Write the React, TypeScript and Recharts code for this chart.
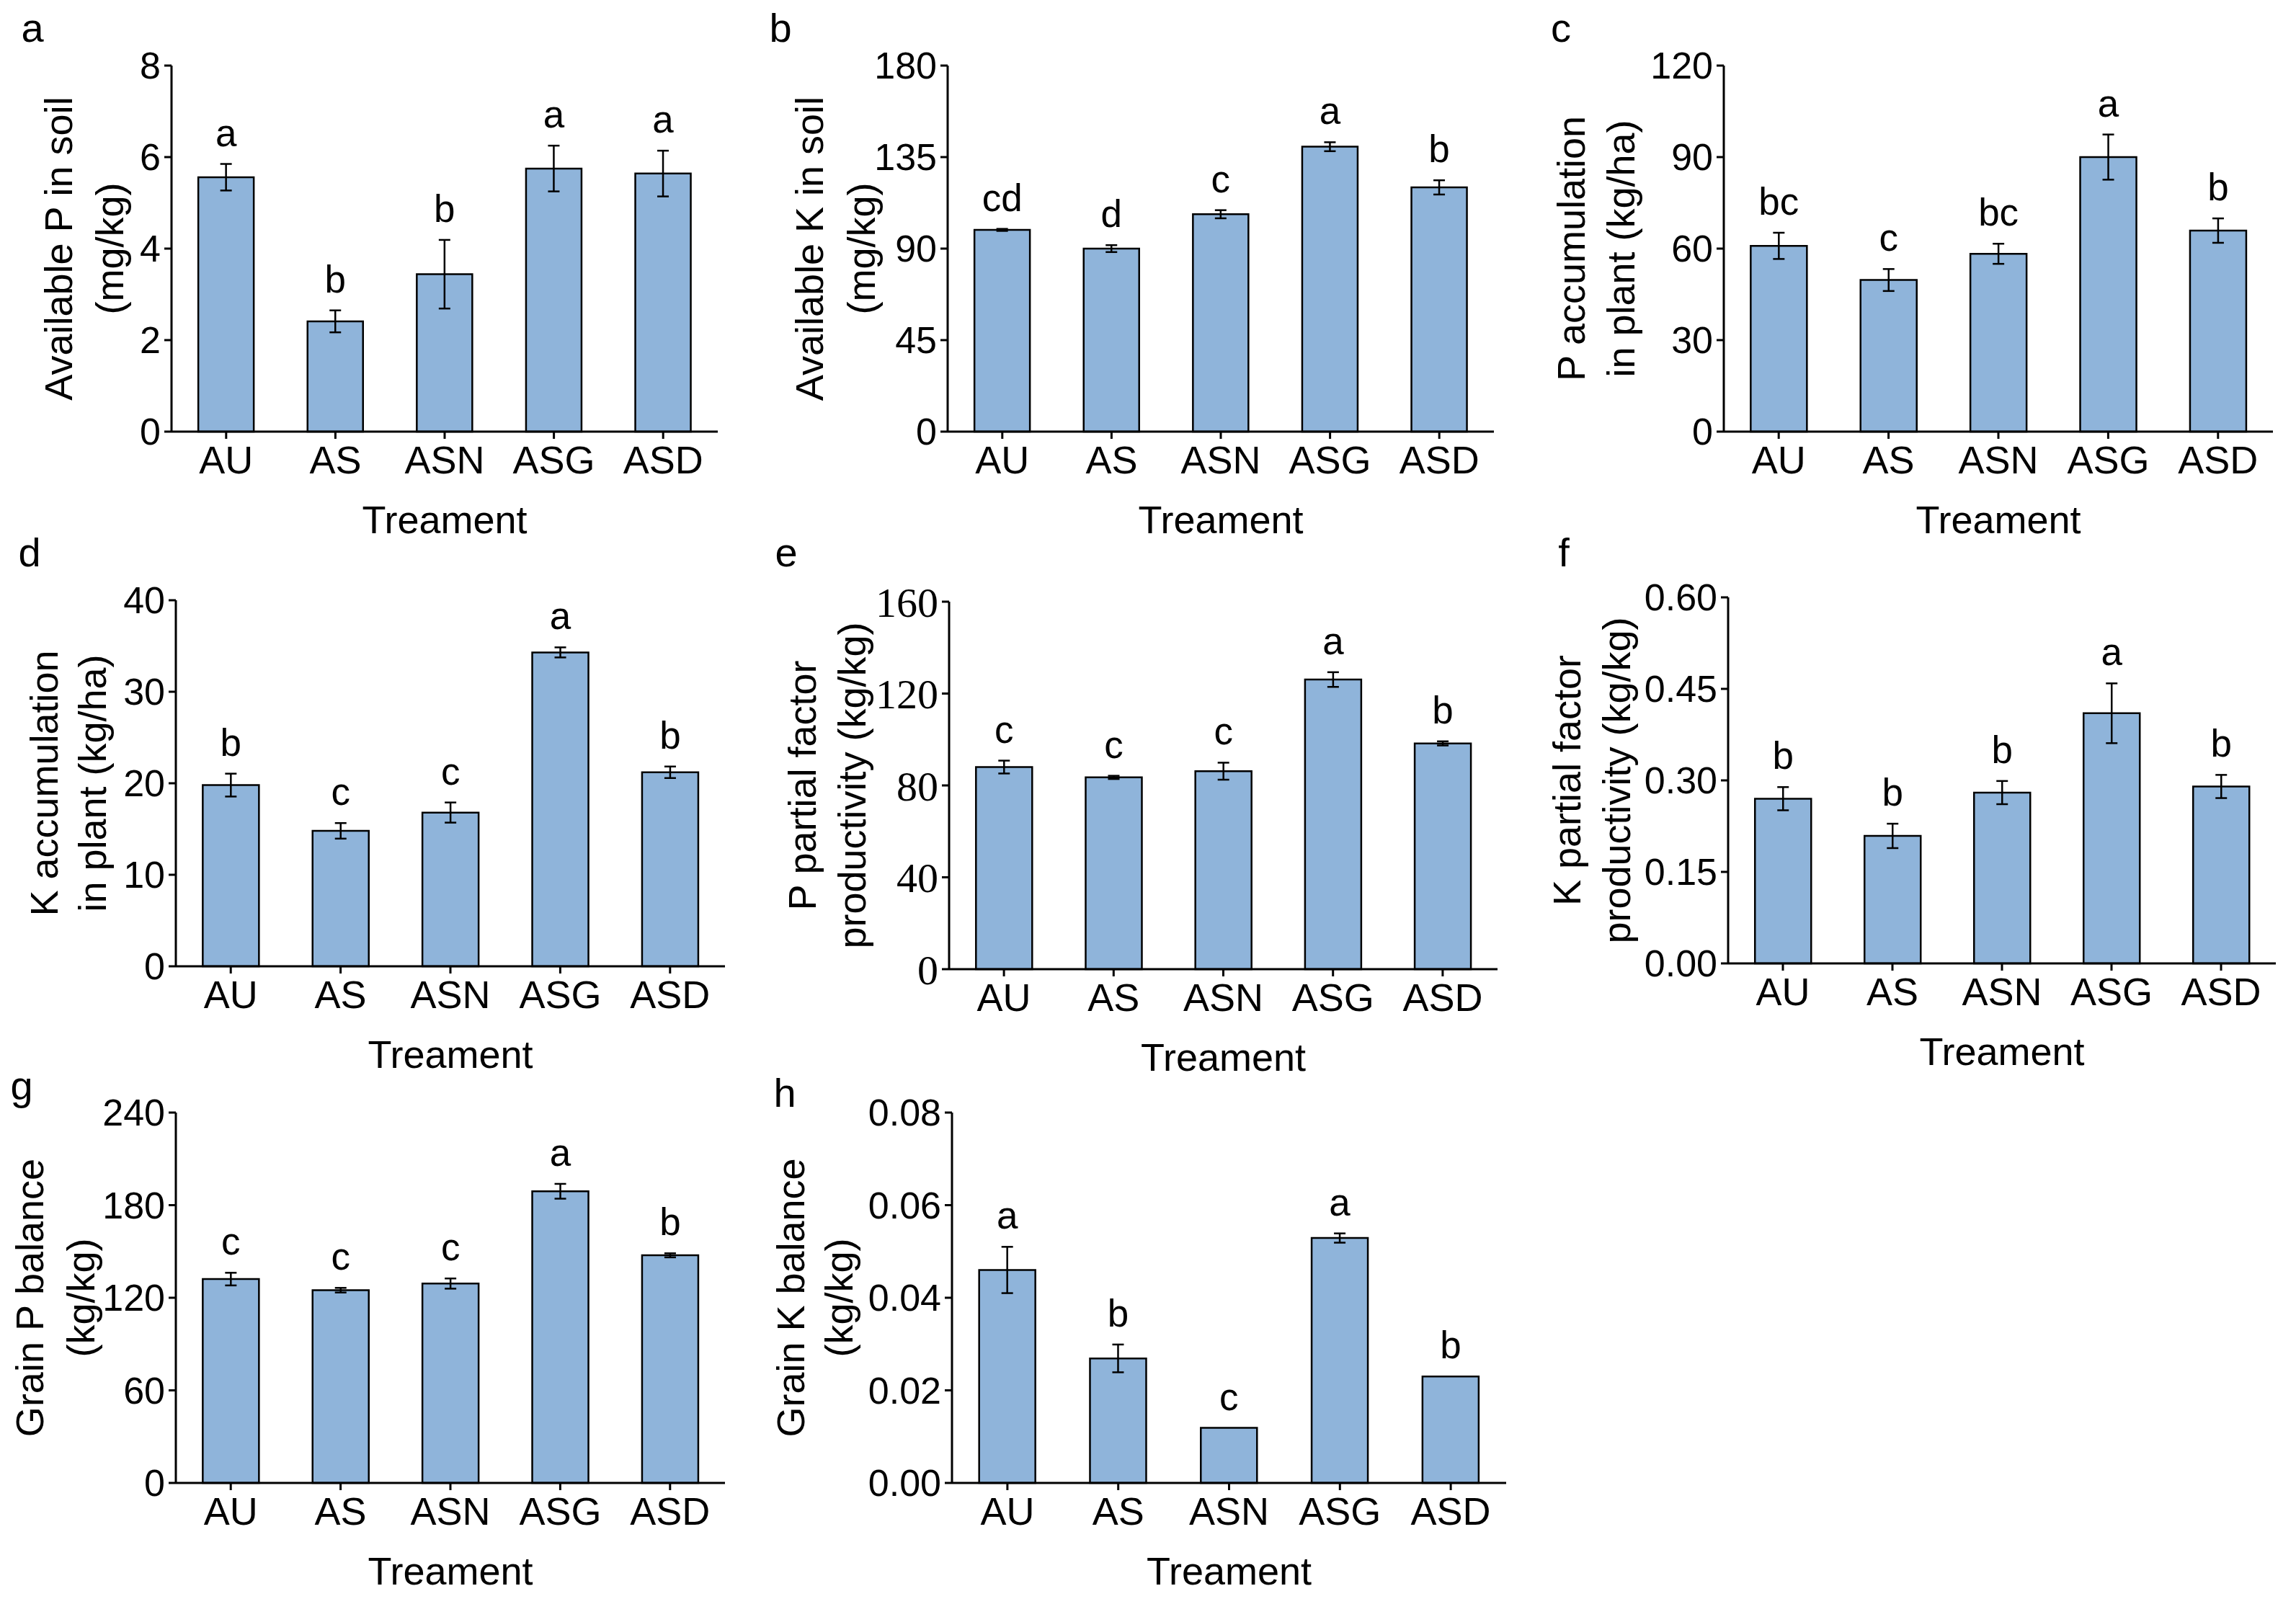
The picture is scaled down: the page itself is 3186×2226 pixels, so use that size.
import React from 'react';
import { BarChart, Bar, XAxis, YAxis, ErrorBar, LabelList } from 'recharts';

const categories = ['AU', 'AS', 'ASN', 'ASG', 'ASD'];

// a - available P in soil
const availPValues = [5.56, 2.41, 3.44, 5.75, 5.64];
const availPErrors = [0.29, 0.24, 0.75, 0.5, 0.5];
const availPLetters = ['a', 'b', 'b', 'a', 'a'];
const availPTicks = [0, 2, 4, 6, 8];

// b - available K in soil
const availKValues = [99.2, 90.0, 106.9, 140.1, 120.1];
const availKErrors = [0.5, 1.7, 2.0, 2.2, 3.5];
const availKLetters = ['cd', 'd', 'c', 'a', 'b'];
const availKTicks = [0, 45, 90, 135, 180];

// c - P accumulation in plant
const pAccValues = [60.9, 49.7, 58.3, 90.0, 65.9];
const pAccErrors = [4.3, 3.6, 3.3, 7.4, 4.0];
const pAccLetters = ['bc', 'c', 'bc', 'a', 'b'];
const pAccTicks = [0, 30, 60, 90, 120];

// d - K accumulation in plant
const kAccValues = [19.8, 14.8, 16.8, 34.3, 21.2];
const kAccErrors = [1.25, 0.85, 1.1, 0.55, 0.63];
const kAccLetters = ['b', 'c', 'c', 'a', 'b'];
const kAccTicks = [0, 10, 20, 30, 40];

// e - P partial factor productivity
const pPfpValues = [88.0, 83.5, 86.2, 126.1, 98.3];
const pPfpErrors = [2.8, 0.7, 3.7, 3.2, 0.9];
const pPfpLetters = ['c', 'c', 'c', 'a', 'b'];
const pPfpTicks = [0, 40, 80, 120, 160];

// f - K partial factor productivity
const kPfpValues = [0.27, 0.209, 0.28, 0.41, 0.29];
const kPfpErrors = [0.019, 0.02, 0.019, 0.049, 0.019];
const kPfpLetters = ['b', 'b', 'b', 'a', 'b'];
const kPfpTicks = [0, 0.15, 0.3, 0.45, 0.6];

// g - grain P balance
const pBalValues = [132.1, 124.9, 129.2, 189.0, 147.5];
const pBalErrors = [4.1, 1.5, 3.3, 4.8, 1.3];
const pBalLetters = ['c', 'c', 'c', 'a', 'b'];
const pBalTicks = [0, 60, 120, 180, 240];

// h - grain K balance
const kBalValues = [0.046, 0.0269, 0.0119, 0.0529, 0.023];
const kBalErrors = [0.005, 0.003, 0, 0.001, 0];
const kBalLetters = ['a', 'b', 'c', 'a', 'b'];
const kBalTicks = [0, 0.02, 0.04, 0.06, 0.08];

const SANS = "'Liberation Sans', Arial, Helvetica, sans-serif";
const SERIF = "'Liberation Serif', 'Times New Roman', serif";
const BAR_FILL = '#8fb4da';
const TOP_PAD = 90;
const BOTTOM_PAD = 160;

const panels = [
  { tag: 'a', title: ['Available P in soil', '(mg/kg)'], values: availPValues, errors: availPErrors, letters: availPLetters, ticks: availPTicks, dec: 0,
    col: 0, left: 238, right: 996, top: 91, bottom: 599, t1: -157, t2: -86, tagX: 45, tagY: 58 },
  { tag: 'b', title: ['Available K in soil', '(mg/kg)'], values: availKValues, errors: availKErrors, letters: availKLetters, ticks: availKTicks, dec: 0,
    col: 1060, left: 1315, right: 2073, top: 91, bottom: 599, t1: -192, t2: -120, tagX: 1083, tagY: 58 },
  { tag: 'c', title: ['P accumulation', 'in plant (kg/ha)'], values: pAccValues, errors: pAccErrors, letters: pAccLetters, ticks: pAccTicks, dec: 0,
    col: 2130, left: 2392, right: 3154, top: 91, bottom: 599, t1: -212, t2: -143, tagX: 2166, tagY: 58 },
  { tag: 'd', title: ['K accumulation', 'in plant (kg/ha)'], values: kAccValues, errors: kAccErrors, letters: kAccLetters, ticks: kAccTicks, dec: 0,
    col: 0, left: 244, right: 1006, top: 833, bottom: 1341, t1: -183, t2: -116, tagX: 41, tagY: 786 },
  { tag: 'e', title: ['P partial factor', 'productivity (kg/kg)'], values: pPfpValues, errors: pPfpErrors, letters: pPfpLetters, ticks: pPfpTicks, dec: 0,
    col: 1060, left: 1317, right: 2078, top: 835, bottom: 1345, t1: -204, t2: -135, tagX: 1091, tagY: 786, serifTicks: true },
  { tag: 'f', title: ['K partial factor', 'productivity (kg/kg)'], values: kPfpValues, errors: kPfpErrors, letters: kPfpLetters, ticks: kPfpTicks, dec: 2,
    col: 2130, left: 2398, right: 3158, top: 829, bottom: 1337, t1: -224, t2: -155, tagX: 2170, tagY: 786 },
  { tag: 'g', title: ['Grain P balance', '(kg/kg)'], values: pBalValues, errors: pBalErrors, letters: pBalLetters, ticks: pBalTicks, dec: 0,
    col: 0, left: 244, right: 1006, top: 1544, bottom: 2058, t1: -203, t2: -132, tagX: 30, tagY: 1526 },
  { tag: 'h', title: ['Grain K balance', '(kg/kg)'], values: kBalValues, errors: kBalErrors, letters: kBalLetters, ticks: kBalTicks, dec: 2,
    col: 1060, left: 1321, right: 2090, top: 1544, bottom: 2058, t1: -224, t2: -157, tagX: 1089, tagY: 1536 },
];

function YTitle({ cx1, cx2, cy, lines }: any) {
  return (
    <g>
      {[cx1, cx2].map((cx: number, i: number) => (
        <text key={i} x={cx} y={cy} transform={`rotate(-90 ${cx} ${cy})`} textAnchor="middle"
          dominantBaseline="central" fontSize={54} fontFamily={SANS} fill="#000">{lines[i]}</text>
      ))}
    </g>
  );
}

function XTitle({ cx, cy }: any) {
  return (
    <text x={cx} y={cy} textAnchor="middle" dominantBaseline="central" fontSize={54} fontFamily={SANS} fill="#000">
      Treament
    </text>
  );
}

function Panel({ p }: any) {
  const yw = p.left - p.col;
  const plotW = p.right - p.left;
  const plotH = p.bottom - p.top;
  const width = yw + plotW + 30;
  const height = TOP_PAD + plotH + BOTTOM_PAD;
  const max = p.ticks[p.ticks.length - 1];
  const data = categories.map((name, i) => ({ name, value: p.values[i], err: p.errors[i], sig: p.letters[i] }));

  const sig = (props: any) => {
    const { x, width: w, index, value } = props;
    const v = p.values[index];
    const e = p.errors[index];
    const yTop = TOP_PAD + (1 - (v + e) / max) * plotH;
    return (
      <text x={Number(x) + Number(w) / 2} y={yTop - 25} textAnchor="middle" fontSize={53} fontFamily={SANS} fill="#000">
        {value}
      </text>
    );
  };

  return (
    <div style={{ position: 'absolute', left: p.col, top: p.top - TOP_PAD }}>
      <BarChart width={width} height={height} data={data} margin={{ top: TOP_PAD, right: 30, left: 0, bottom: 0 }}
        barCategoryGap="24.5%">
        <XAxis dataKey="name" height={BOTTOM_PAD} interval={0} tickSize={10} tickMargin={10}
          axisLine={{ stroke: '#000', strokeWidth: 3 }} tickLine={{ stroke: '#000', strokeWidth: 3 }}
          tick={{ fill: '#000', fontSize: 54, fontFamily: SANS }}
          label={<XTitle cx={yw + plotW / 2} cy={TOP_PAD + plotH + 122} />} />
        <YAxis width={yw} domain={[0, max]} ticks={p.ticks} interval={0} tickSize={10} tickMargin={5}
          tickFormatter={(t: number) => t.toFixed(p.dec)}
          axisLine={{ stroke: '#000', strokeWidth: 3 }} tickLine={{ stroke: '#000', strokeWidth: 3 }}
          tick={{ fill: '#000', fontSize: p.serifTicks ? 58 : 52, fontFamily: p.serifTicks ? SERIF : SANS }}
          label={<YTitle cx1={yw + p.t1} cx2={yw + p.t2} cy={TOP_PAD + plotH / 2} lines={p.title} />} />
        <Bar dataKey="value" fill={BAR_FILL} stroke="#000" strokeWidth={2.5} isAnimationActive={false}>
          <ErrorBar dataKey="err" width={8} stroke="#000" strokeWidth={2.5} isAnimationActive={false} />
          <LabelList dataKey="sig" content={sig} />
        </Bar>
      </BarChart>
    </div>
  );
}

export default function App() {
  return (
    <div style={{ position: 'absolute', left: 0, top: 0, width: 3186, height: 2226, background: '#fff', overflow: 'hidden' }}>
      {panels.map((p) => <Panel key={p.tag} p={p} />)}
      <svg width={3186} height={2226} style={{ position: 'absolute', left: 0, top: 0, pointerEvents: 'none' }}>
        {panels.map((p) => (
          <text key={p.tag} x={p.tagX} y={p.tagY} textAnchor="middle" fontSize={56} fontFamily={SANS} fill="#000">{p.tag}</text>
        ))}
      </svg>
    </div>
  );
}
